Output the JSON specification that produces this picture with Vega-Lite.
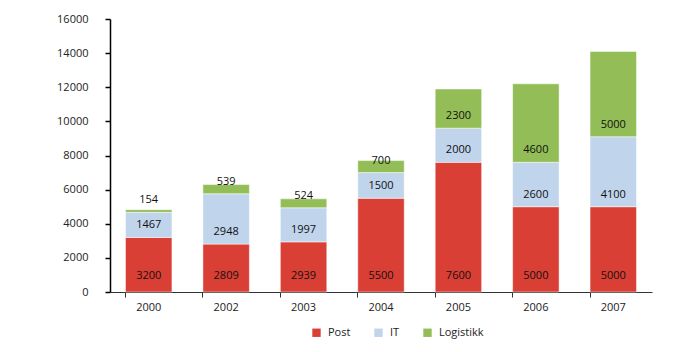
{
  "$schema": "https://vega.github.io/schema/vega-lite/v6.json",
  "autosize": "none",
  "width": 542,
  "height": 273,
  "padding": {"left": 110, "top": 19, "right": 48, "bottom": 60},
  "config": {
    "view": {"stroke": null},
    "font": "Open Sans",
    "axis": {"labelFont": "Open Sans", "labelFontSize": 11, "labelColor": "#222", "grid": false, "title": null, "labelOverlap": false},
    "axisY": {"domain": true, "domainColor": "#000000", "domainWidth": 1.5, "ticks": true, "tickColor": "#000000", "tickWidth": 1.5},
    "legend": {"labelFont": "Open Sans", "labelFontSize": 11, "labelColor": "#222"}
  },
  "data": {
    "values": [
      {"year": "2000", "series": "Post", "order": 1, "value": 3200},
      {"year": "2000", "series": "IT", "order": 2, "value": 1467},
      {"year": "2000", "series": "Logistikk", "order": 3, "value": 154},
      {"year": "2002", "series": "Post", "order": 1, "value": 2809},
      {"year": "2002", "series": "IT", "order": 2, "value": 2948},
      {"year": "2002", "series": "Logistikk", "order": 3, "value": 539},
      {"year": "2003", "series": "Post", "order": 1, "value": 2939},
      {"year": "2003", "series": "IT", "order": 2, "value": 1997},
      {"year": "2003", "series": "Logistikk", "order": 3, "value": 524},
      {"year": "2004", "series": "Post", "order": 1, "value": 5500},
      {"year": "2004", "series": "IT", "order": 2, "value": 1500},
      {"year": "2004", "series": "Logistikk", "order": 3, "value": 700},
      {"year": "2005", "series": "Post", "order": 1, "value": 7600},
      {"year": "2005", "series": "IT", "order": 2, "value": 2000},
      {"year": "2005", "series": "Logistikk", "order": 3, "value": 2300},
      {"year": "2006", "series": "Post", "order": 1, "value": 5000},
      {"year": "2006", "series": "IT", "order": 2, "value": 2600},
      {"year": "2006", "series": "Logistikk", "order": 3, "value": 4600},
      {"year": "2007", "series": "Post", "order": 1, "value": 5000},
      {"year": "2007", "series": "IT", "order": 2, "value": 4100},
      {"year": "2007", "series": "Logistikk", "order": 3, "value": 5000}
    ]
  },
  "transform": [
    {"stack": "value", "groupby": ["year"], "sort": [{"field": "order", "order": "ascending"}], "as": ["v0", "v1"]}
  ],
  "encoding": {
    "x": {
      "field": "year", "type": "nominal", "sort": null,
      "scale": {"paddingInner": 0.4, "paddingOuter": 0.2},
      "axis": {"labelAngle": 0, "bandPosition": 0, "tickSize": 5, "labelPadding": 4, "domainColor": "#333", "tickColor": "#333"}
    },
    "y": {
      "field": "v0", "type": "quantitative",
      "scale": {"domain": [0, 16000], "nice": false},
      "axis": {"orient": "left", "zindex": 1, "values": [0, 2000, 4000, 6000, 8000, 10000, 12000, 14000, 16000], "tickSize": 5, "labelPadding": 17, "format": "d", "labelOverlap": false}
    }
  },
  "layer": [
    {
      "mark": {"type": "bar", "stroke": "white", "strokeWidth": 0.5},
      "encoding": {
        "y2": {"field": "v1"},
        "color": {
          "field": "series", "type": "nominal",
          "scale": {"domain": ["Post", "IT", "Logistikk"], "range": ["#d93f34", "#c0d4ec", "#93bd56"]},
          "legend": {"title": null, "orient": "none", "direction": "horizontal", "legendX": 201, "legendY": 308, "symbolType": "square", "symbolSize": 70, "symbolStrokeWidth": 0, "columnPadding": 22, "labelOffset": 6}
        }
      }
    },
    {
      "transform": [{"filter": "datum.series === 'Post'"}],
      "mark": {"type": "text", "baseline": "middle", "dy": -16, "fontSize": 11, "color": "#111"},
      "encoding": {
        "text": {"field": "value", "type": "quantitative", "format": "d"}
      }
    },
    {
      "transform": [{"filter": "datum.series !== 'Post'"}],
      "mark": {"type": "text", "baseline": "middle", "dy": -12, "fontSize": 11, "color": "#111"},
      "encoding": {
        "text": {"field": "value", "type": "quantitative", "format": "d"}
      }
    }
  ]
}
